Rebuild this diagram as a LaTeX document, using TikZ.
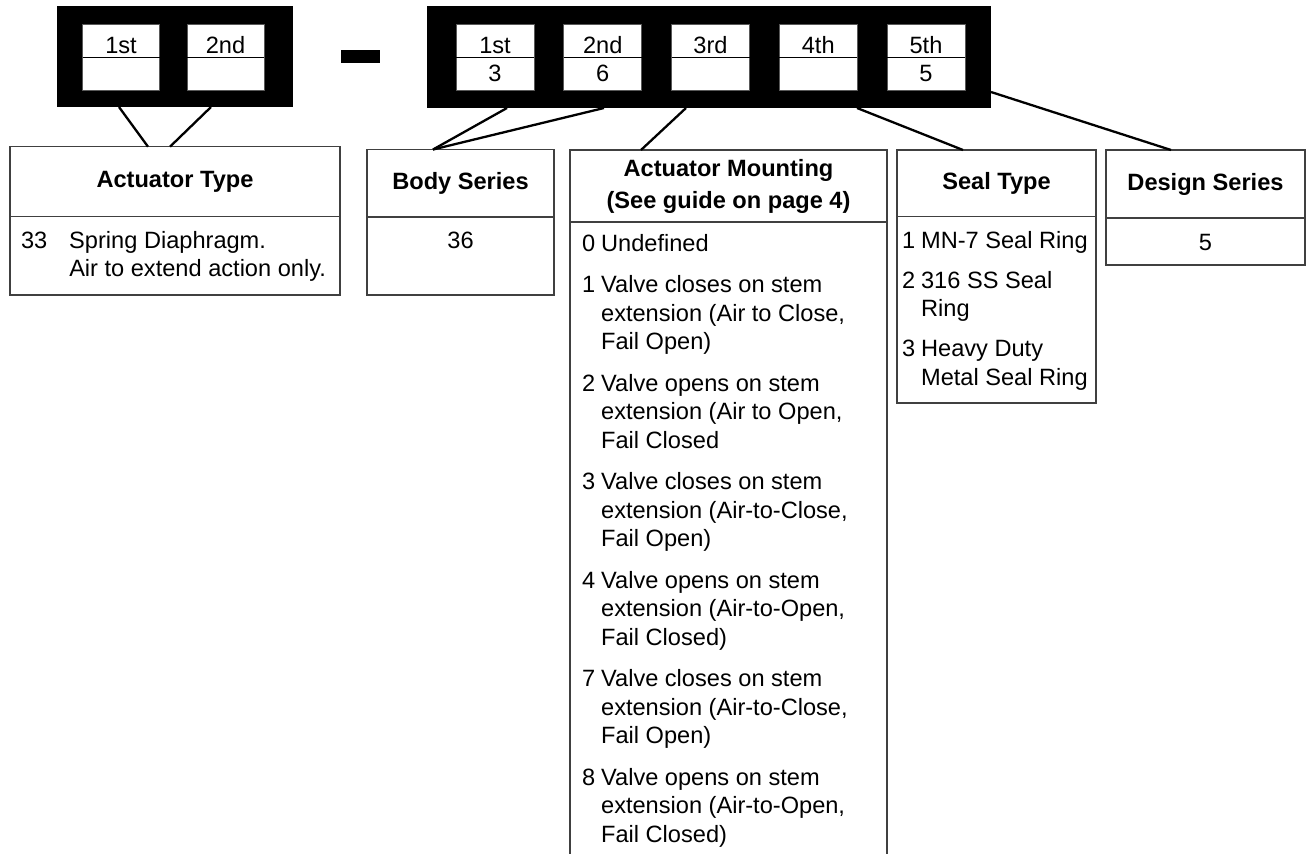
\documentclass[tikz,border=0pt]{standalone}
\usepackage{fontspec}
\setmainfont{Liberation Sans}
\usepackage{tikz}

\begin{document}
\begin{tikzpicture}[x=1pt, y=-1pt,
  every node/.style={font=\fontsize{23.6}{28.5}\selectfont, inner sep=0pt, outer sep=0pt},
  plate/.style={rectangle, fill=black, minimum width=#1, minimum height=101},
  slot/.style={rectangle, draw=black!65, line width=0.8pt, fill=white, minimum height=66},
  rule/.style={draw=black!75, line width=1.3pt},
  hdr/.style={rectangle, rule, align=center, font=\fontsize{23.6}{32}\selectfont\bfseries},
  cell/.style={rectangle, rule},
  link/.style={line width=2.3pt}]
\useasboundingbox (0,0) rectangle (1307,854);

% part number
\node[plate=236] (lead) at (175,56.5) {};
\node[rectangle, fill=black, minimum width=39, minimum height=13] (hyph) at (360.5,56.5) {};
\node[plate=564, minimum height=102] (code) at (709,57) {};

\foreach \n/\x/\lbl/\dig in {l1/121/1st/{}, l2/225.5/2nd/{}} {
  \node[slot, minimum width=77] (\n) at (\x,57) {};
  \draw[line width=0.8pt] (\n.west) -- (\n.east);
  \node[anchor=base] (\n-t) at (\x,53.3) {\lbl};
  \node[anchor=base] (\n-v) at (\x,81.4) {\dig};
}
\foreach \n/\x/\lbl/\dig in {c1/495/1st/3, c2/602.75/2nd/6, c3/710.5/3rd/{}, c4/818.25/4th/{}, c5/926/5th/5} {
  \node[slot, minimum width=78] (\n) at (\x,57) {};
  \draw[line width=0.8pt] (\n.west) -- (\n.east);
  \node[anchor=base] (\n-t) at (\x,53.3) {\lbl};
  \node[anchor=base] (\n-v) at (\x,81.4) {\dig};
}

% actuator type
\node[hdr, minimum width=330, minimum height=70] (typeH) at (175,181.7) {Actuator Type};
\node[cell, minimum width=330, minimum height=78.3, anchor=north] (typeB) at (typeH.south) {};
\node[anchor=north west] (typeT) at (21,228.4) {\begin{tabular}{@{}l@{\hspace{22pt}}l@{}}
33 & Spring Diaphragm.\\
   & Air to extend action only.
\end{tabular}};

% body series
\node[hdr, minimum width=187, minimum height=67.5] (bodyH) at (460.5,183.25) {Body Series};
\node[cell, minimum width=187, minimum height=78, anchor=north] (bodyB) at (bodyH.south) {};
\node[anchor=base] (bodyT) at (460.5,248.4) {36};

% actuator mounting
\node[hdr, minimum width=317, minimum height=72] (mountH) at (728.5,186) {Actuator Mounting\\(See guide on page 4)};
\draw[rule] (mountH.south west) -- ++(0,640);
\draw[rule] (mountH.south east) -- ++(0,640);
\node[anchor=north west] (mountT) at (582,231.4) {\begin{tabular}{@{}l@{\hspace{6pt}}l@{}}
0 & Undefined\\[13pt]
1 & Valve closes on stem\\ & extension (Air to Close,\\ & Fail Open)\\[13pt]
2 & Valve opens on stem\\ & extension (Air to Open,\\ & Fail Closed\\[13pt]
3 & Valve closes on stem\\ & extension (Air-to-Close,\\ & Fail Open)\\[13pt]
4 & Valve opens on stem\\ & extension (Air-to-Open,\\ & Fail Closed)\\[13pt]
7 & Valve closes on stem\\ & extension (Air-to-Close,\\ & Fail Open)\\[13pt]
8 & Valve opens on stem\\ & extension (Air-to-Open,\\ & Fail Closed)
\end{tabular}};

% seal type
\node[hdr, minimum width=199, minimum height=66.5] (sealH) at (996.5,183.25) {Seal Type};
\node[cell, minimum width=199, minimum height=186.5, anchor=north] (sealB) at (sealH.south) {};
\node[anchor=north west] (sealT) at (902,228.4) {\begin{tabular}{@{}l@{\hspace{6pt}}l@{}}
1 & MN-7 Seal Ring\\[11.5pt]
2 & 316 SS Seal\\ & Ring\\[11.5pt]
3 & Heavy Duty\\ & Metal Seal Ring
\end{tabular}};

% design series
\node[hdr, minimum width=199, minimum height=68] (desH) at (1205.5,184) {Design Series};
\node[cell, minimum width=199, minimum height=47, anchor=north] (desB) at (desH.south) {};
\node[anchor=base] (desT) at (1205.5,250.4) {5};

% connectors
\coordinate (leadA) at (119,107);
\coordinate (leadB) at (211,107);
\coordinate (codeA) at (507,108);
\coordinate (codeB) at (604,108);
\coordinate (codeC) at (686,108);
\coordinate (codeD) at (857,108);
\coordinate (codeE) at (991,92);
\draw[link] (leadA) -- ([xshift=-27pt]typeH.north);
\draw[link] (leadB) -- ([xshift=-5pt]typeH.north);
\draw[link] (codeA) -- ([xshift=-27.5pt]bodyH.north);
\draw[link] (codeB) -- ([xshift=-27.5pt]bodyH.north);
\draw[link] (codeC) -- ([xshift=-87.5pt]mountH.north);
\draw[link] (codeD) -- ([xshift=-33.5pt]sealH.north);
\draw[link] (codeE) -- ([xshift=-34.5pt]desH.north);
\end{tikzpicture}
\end{document}
